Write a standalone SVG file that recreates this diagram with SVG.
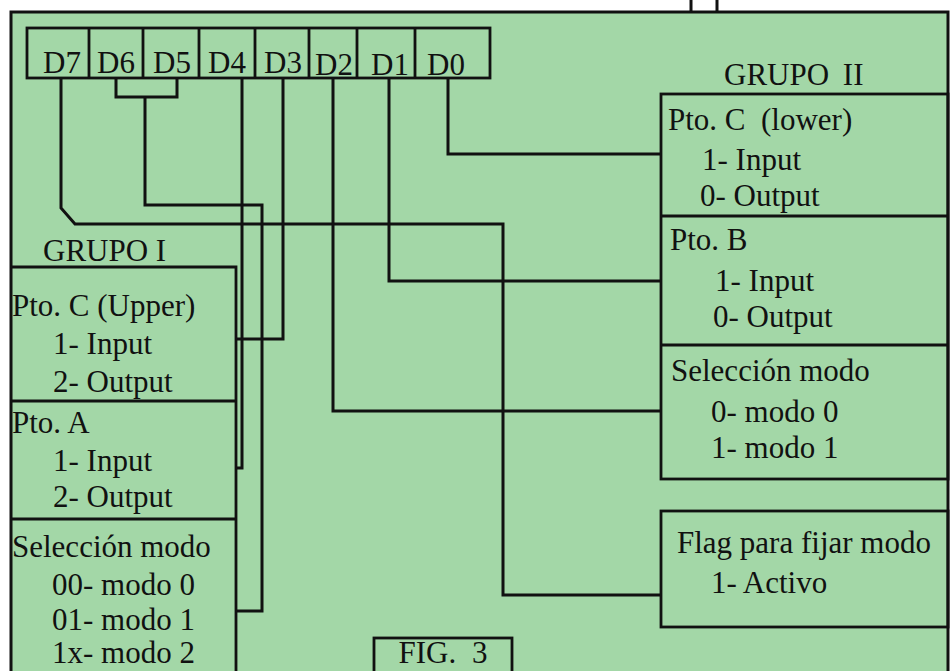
<svg xmlns="http://www.w3.org/2000/svg" width="952" height="671" viewBox="0 0 952 671">
<style>
text{font-family:"Liberation Serif","Times New Roman",serif;font-size:31px;fill:#111}
.box{fill:none;stroke:#111;stroke-width:2.8}
.ln{fill:none;stroke:#111;stroke-width:3;stroke-linejoin:miter}
</style>
<rect x="0" y="0" width="952" height="671" fill="#ffffff"/>
<rect id="frame" x="11" y="12" width="937" height="670" fill="#a3d7a7" stroke="#111" stroke-width="3"/>
<g id="ticks"><path class="ln" d="M691,0 V12 M717,0 V12"/></g>

<g id="register">
<rect class="box" x="27" y="28" width="463" height="50"/>
<path class="box" d="M89,28 V78 M143,28 V78 M199,28 V78 M255,28 V78 M309,28 V78 M357,28 V78 M415,28 V78"/>
<text x="43" y="73">D7</text>
<text x="97" y="73">D6</text>
<text x="153" y="73">D5</text>
<text x="208" y="73">D4</text>
<text x="264" y="73">D3</text>
<text x="315" y="75">D2</text>
<text x="371" y="75">D1</text>
<text x="427" y="75">D0</text>
</g>

<g id="connectors">
<path class="ln" d="M61,78 V208 L75,224 H503 V595 H661"/>
<path class="ln" d="M116,78 V97 H177 V78 M145,97 V205 H262 V611 H236"/>
<path class="ln" d="M242,78 V468 H236"/>
<path class="ln" d="M283,78 V339 H236"/>
<path class="ln" d="M333,78 V411 H661"/>
<path class="ln" d="M389,78 V281 H661"/>
<path class="ln" d="M448,78 V154 H661"/>
</g>

<g id="grupo1">
<text x="43" y="261">GRUPO I</text>
<path class="box" d="M11,267 H236 V680 M11,401 H236 M11,519 H236"/>
</g>
<g id="g1-ptoC">
<text x="12" y="316">Pto. C (Upper)</text>
<text x="53" y="354">1- Input</text>
<text x="53" y="392">2- Output</text>
</g>
<g id="g1-ptoA">
<text x="12" y="433">Pto. A</text>
<text x="53" y="471">1- Input</text>
<text x="53" y="507">2- Output</text>
</g>
<g id="g1-modo">
<text x="12" y="557">Selección modo</text>
<text x="52" y="595">00- modo 0</text>
<text x="52" y="630">01- modo 1</text>
<text x="52" y="663">1x- modo 2</text>
</g>

<g id="grupo2">
<text x="724" y="85" word-spacing="6">GRUPO II</text>
<rect class="box" x="661" y="94" width="287" height="385"/>
<path class="box" d="M661,216 H948 M661,345 H948"/>
</g>
<g id="g2-ptoC">
<text x="668" y="130" xml:space="preserve">Pto. C  (lower)</text>
<text x="702" y="170">1- Input</text>
<text x="700" y="206">0- Output</text>
</g>
<g id="g2-ptoB">
<text x="670" y="250">Pto. B</text>
<text x="715" y="291">1- Input</text>
<text x="713" y="327">0- Output</text>
</g>
<g id="g2-modo">
<text x="671" y="381">Selección modo</text>
<text x="711" y="422">0- modo 0</text>
<text x="711" y="458">1- modo 1</text>
</g>

<g id="flag">
<rect class="box" x="661" y="511" width="287" height="116"/>
<text x="677" y="553">Flag para fijar modo</text>
<text x="711" y="593">1- Activo</text>
</g>

<g id="fig3">
<rect class="box" x="374" y="638" width="138" height="50"/>
<text x="443" y="663" text-anchor="middle" word-spacing="8">FIG. 3</text>
</g>
</svg>
